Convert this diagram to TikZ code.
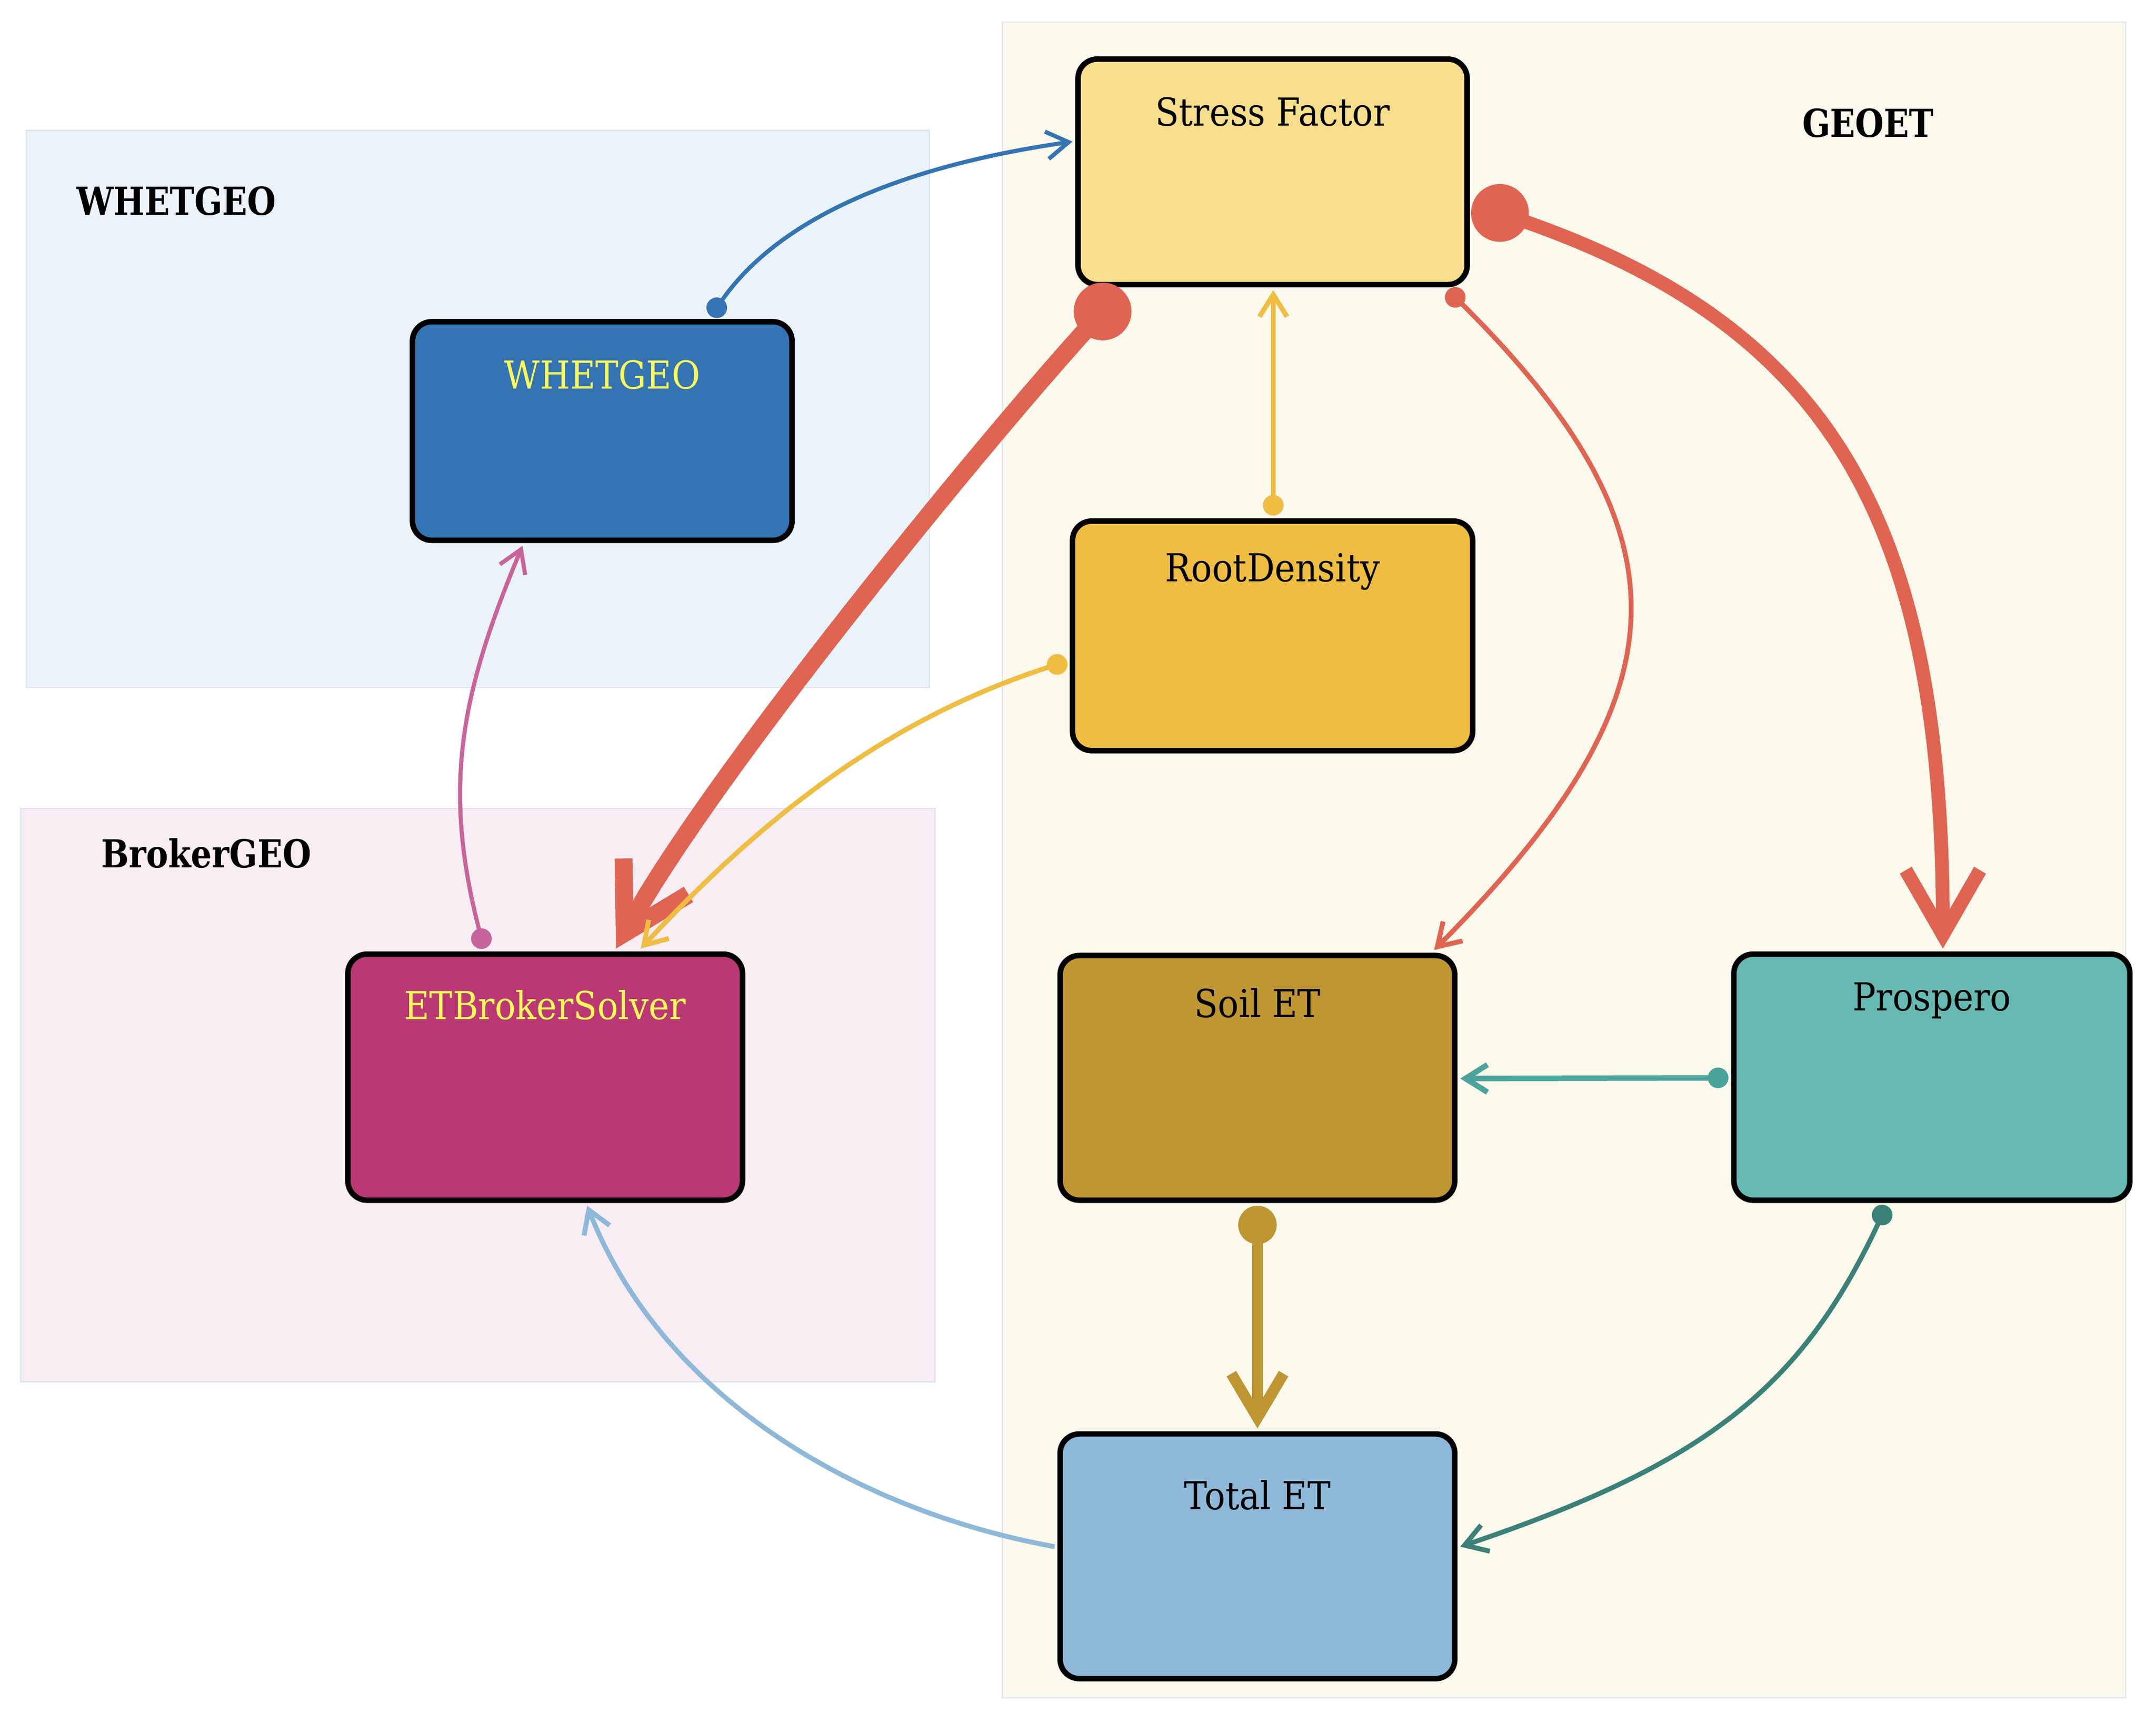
\documentclass[tikz,border=0pt]{standalone}
\usepackage{fontspec}
\setmainfont{DejaVu Serif}[FakeStretch=0.9,BoldFeatures={FakeStretch=0.855}]
\usetikzlibrary{arrows.meta,calc}
\definecolor{clusline}{HTML}{DCE6F0}
\definecolor{cwfill}{HTML}{EBF3FA}
\definecolor{cbfill}{HTML}{F7EDF3}
\definecolor{cgfill}{HTML}{FBF8EC}
\definecolor{sfcol}{HTML}{F6DE8C}
\definecolor{wgcol}{HTML}{3474B3}
\definecolor{rdcol}{HTML}{EEBD42}
\definecolor{ebcol}{HTML}{BA3874}
\definecolor{secol}{HTML}{BE9632}
\definecolor{prcol}{HTML}{67BAB3}
\definecolor{tecol}{HTML}{8DB8D7}
\definecolor{redc}{HTML}{E06452}
\definecolor{pinkc}{HTML}{C8649A}
\definecolor{tealc}{HTML}{4BA49A}
\definecolor{dtealc}{HTML}{3A8178}
\definecolor{ylab}{HTML}{FAFA5A}
\begin{document}
\begin{tikzpicture}[x=1pt,y=-1pt,
  clus/.style={draw=clusline,line width=1pt,inner sep=0pt},
  box/.style={draw=black,line width=4pt,rounded corners=14pt,inner sep=0pt},
  lbl/.style={anchor=base,inner sep=0pt,font=\fontsize{28}{34}\selectfont},
  clbl/.style={anchor=base west,inner sep=0pt,font=\fontsize{28}{34}\selectfont\bfseries},
  thin/.style={line width=3.5pt,{Circle[length=15pt]}-{Straight Barb[length=16pt,width=20pt]}},
  bigred/.style={draw=redc,line width=#1,{Circle[length=42pt]}-{Straight Barb[length=47pt,width=54pt]}},
]
\useasboundingbox (0,0) rectangle (1568,1253);
% clusters
\node[clus,fill=cwfill,minimum width=657pt,minimum height=405pt] (cw) at (347.5,297.5) {};
\node[clus,fill=cbfill,minimum width=665pt,minimum height=417pt] (cb) at (347.5,796.5) {};
\node[clus,fill=cgfill,minimum width=817pt,minimum height=1219pt] (cg) at (1137.5,625.5) {};
\node[clbl] (cwl) at (55.6,156.6) {WHETGEO};
\node[clbl] (cbl) at (73.4,631) {BrokerGEO};
\node[clbl] (cgl) at (1310.5,99.9) {GEOET};
% nodes
\node[box,fill=sfcol,minimum width=283pt,minimum height=164pt] (sf) at (925.5,125) {};
\node[box,fill=wgcol,minimum width=276pt,minimum height=159pt] (wg) at (438,313.5) {};
\node[box,fill=rdcol,minimum width=291pt,minimum height=167pt] (rd) at (925.5,462.5) {};
\node[box,fill=ebcol,minimum width=287pt,minimum height=179pt] (eb) at (396.5,783.5) {};
\node[box,fill=secol,minimum width=287pt,minimum height=178pt] (se) at (914.5,784) {};
\node[box,fill=prcol,minimum width=288pt,minimum height=179pt] (pr) at (1405,783.5) {};
\node[box,fill=tecol,minimum width=287pt,minimum height=178pt] (te) at (914.5,1132) {};
\node[lbl] (sft) at (925.5,91.4) {Stress Factor};
\node[lbl,text=ylab] (wgt) at (438,282.8) {WHETGEO};
\node[lbl] (rdt) at (925.5,423.2) {RootDensity};
\node[lbl,text=ylab] (ebt) at (396.5,741.6) {ETBrokerSolver};
\node[lbl] (set) at (914.5,740) {Soil ET};
\node[lbl] (prt) at (1405,735) {Prospero};
\node[lbl] (tet) at (914.5,1098) {Total ET};
% connectors
\draw[thin,draw=wgcol,line width=3pt] ($(wg.north)+(79,-2)$) .. controls (574,148) and (682,117) .. ($(sf.west)+(-2,-22)$);
\draw[bigred=13pt] ($(sf.south)+(-109.5,2)$) .. controls (716,321) and (520,560) .. ($(eb.north)+(51.5,-2)$);
\draw[bigred=10pt] ($(sf.east)+(2,23)$) .. controls (1334,239) and (1413,382) .. ($(pr.north)+(8,-2)$);
\draw[thin,draw=redc] ($(sf.south)+(127.5,2)$) .. controls (1235,391) and (1225,508) .. ($(se.north)+(128.5,-2)$);
\draw[thin,draw=rdcol] ($(rd.north)+(0.5,-2)$) -- ($(sf.south)+(0.5,2)$);
\draw[thin,draw=rdcol] ($(rd.west)+(-2,18.5)$) .. controls (645,523) and (554,595) .. ($(eb.north)+(69.5,-2)$);
\draw[thin,draw=pinkc,line width=3pt] ($(eb.north)+(-44.5,-2)$) .. controls (322,574) and (334,507) .. ($(wg.south)+(-58,2)$);
\draw[thin,draw=tealc,line width=4pt] ($(pr.west)+(-2,0.5)$) -- ($(se.east)+(2,0.5)$);
\draw[draw=secol,line width=8pt,{Circle[length=28pt]}-{Straight Barb[length=32pt,width=38pt]}] ($(se.south)+(0,2)$) -- ($(te.north)+(0,-2)$);
\draw[thin,draw=dtealc] ($(pr.south)+(-33,2)$) .. controls (1310,1010) and (1240,1065) .. ($(te.east)+(2,-7)$);
\draw[draw=tecol,line width=3.5pt,-{Straight Barb[length=16pt,width=20pt]}] ($(te.west)+(-2,-7)$) .. controls (624,1099) and (482,1017) .. ($(eb.south)+(30.5,2)$);
\end{tikzpicture}
\end{document}
